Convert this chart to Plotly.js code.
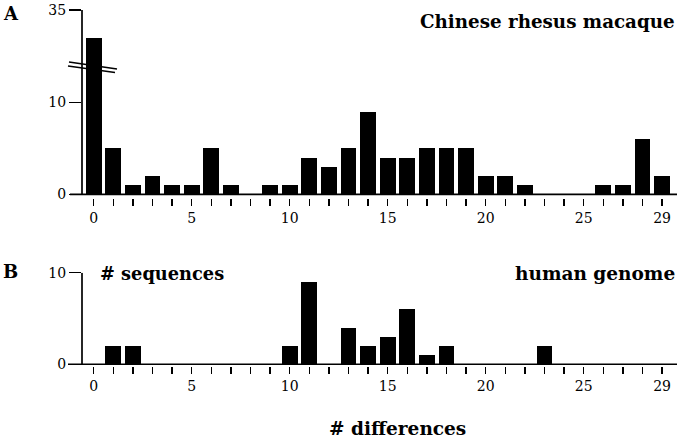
<!DOCTYPE html>
<html><head><meta charset="utf-8">
<script src="https://cdn.plot.ly/plotly-3.0.1.min.js"></script>
<style>html,body{margin:0;padding:0;background:#fff}#chart{width:680px;height:441px}</style>
</head><body><div id="chart"></div>
<script>
// # differences (x categories)
const differences = [0,1,2,3,4,5,6,7,8,9,10,11,12,13,14,15,16,17,18,19,20,21,22,23,24,25,26,27,28,29];
// A: Chinese rhesus macaque, # sequences
const macaqueCounts = [32,5,1,2,1,1,5,1,0,1,1,4,3,5,9,4,4,5,5,5,2,2,1,0,0,0,1,1,6,2];
// B: human genome, # sequences
const humanCounts = [0,2,2,0,0,0,0,0,0,0,2,9,0,4,2,3,6,1,2,0,0,0,0,2,0,0,0,0,0,0];
// x tick labels (blank for unlabeled ticks)
const xTickLabels = ['0','','','','','5','','','','','10','','','','','15','','','','','20','','','','','25','','','','29'];
const yTickValsA = [0,10];
const yTickValsAUpper = [35];
const yTickValsB = [0,10];

const W = 680, H = 441;
const px = v => v / W;
const py = v => 1 - v / H;
const serif = '"DejaVu Serif", serif';
const black = '#000';

const barStyle = {type:'bar', marker:{color:black, line:{width:0}}, width:0.8, hoverinfo:'skip', showlegend:false};

const data = [
  Object.assign({x:differences, y:macaqueCounts, xaxis:'x', yaxis:'y'}, barStyle),
  Object.assign({x:differences, y:macaqueCounts, xaxis:'x', yaxis:'y2'}, barStyle),
  Object.assign({x:differences, y:humanCounts, xaxis:'x2', yaxis:'y3'}, barStyle)
];

const xr = [-0.597, 29.76];
const xdom = [px(82), px(677)];
const tickFont = {family:serif, size:14, color:black};
function xAxis(anchor){
  return {domain:xdom, range:xr, anchor:anchor, tickmode:'array', tickvals:differences, ticktext:xTickLabels,
    ticks:'outside', ticklen:7, tickwidth:1.5, tickcolor:black, showline:false, showgrid:false, zeroline:false,
    tickfont:tickFont, fixedrange:true};
}
function yAxis(dom, range, tv, anchor){
  return {domain:dom, range:range, anchor:anchor, tickmode:'array', tickvals:tv, ticktext:tv.map(String),
    ticks:'outside', ticklen:12, tickwidth:1.5, tickcolor:black, showline:false, showgrid:false, zeroline:false,
    tickfont:tickFont, fixedrange:true};
}

const aLow = [-0.4, 13.95], aUp = [28.91, 35], bR = [-0.2, 10];
const lw = 1.7;
const layout = {
  width:W, height:H, margin:{l:0,r:0,t:0,b:0}, paper_bgcolor:'#fff', plot_bgcolor:'rgba(0,0,0,0)',
  bargap:0, showlegend:false, font:{family:serif, color:black},
  xaxis: xAxis('y'),
  xaxis2: xAxis('y3'),
  yaxis: yAxis([py(198), py(66)], aLow, yTickValsA, 'x'),
  yaxis2: yAxis([py(66), py(10)], aUp, yTickValsAUpper, 'x'),
  yaxis3: yAxis([py(366.1), py(272.7)], bR, yTickValsB, 'x2'),
  shapes: [
    {type:'line', xref:'paper', yref:'y', x0:px(70), x1:px(677), y0:0, y1:0, line:{color:black, width:lw}},
    {type:'line', xref:'paper', yref:'y', x0:px(82), x1:px(82), y0:0, y1:aLow[1], line:{color:black, width:lw}},
    {type:'line', xref:'paper', yref:'y2', x0:px(82), x1:px(82), y0:aUp[0], y1:aUp[1], line:{color:black, width:lw}},
    {type:'line', xref:'paper', yref:'y3', x0:px(68), x1:px(677), y0:0, y1:0, line:{color:black, width:lw}},
    {type:'line', xref:'paper', yref:'y3', x0:px(82), x1:px(82), y0:0, y1:bR[1], line:{color:black, width:lw}},
    {type:'line', xref:'paper', yref:'paper', x0:px(69), x1:px(117), y0:py(62), y1:py(69), line:{color:black, width:1.5}},
    {type:'line', xref:'paper', yref:'paper', x0:px(68), x1:px(115), y0:py(66), y1:py(72.5), line:{color:black, width:1.5}}
  ],
  annotations: [
    {text:'<b>A</b>', xref:'paper', yref:'paper', x:px(11), y:py(13.5), xanchor:'center', yanchor:'middle', showarrow:false, font:{family:serif, size:18, color:black}},
    {text:'<b>B</b>', xref:'paper', yref:'paper', x:px(10), y:py(271.5), xanchor:'center', yanchor:'middle', showarrow:false, font:{family:serif, size:18, color:black}},
    {text:'<b>Chinese rhesus macaque</b>', xref:'paper', yref:'paper', x:px(677), y:py(21), xanchor:'right', yanchor:'middle', showarrow:false, font:{family:serif, size:18.3, color:black}},
    {text:'<b># sequences</b>', xref:'paper', yref:'paper', x:px(98), y:py(273), xanchor:'left', yanchor:'middle', showarrow:false, font:{family:serif, size:17.8, color:black}},
    {text:'<b>human genome</b>', xref:'paper', yref:'paper', x:px(677), y:py(273), xanchor:'right', yanchor:'middle', showarrow:false, font:{family:serif, size:18.5, color:black}},
    {text:'<b># differences</b>', xref:'paper', yref:'paper', x:px(397), y:py(428), xanchor:'center', yanchor:'middle', showarrow:false, font:{family:serif, size:18.5, color:black}}
  ]
};
Plotly.newPlot('chart', data, layout, {displayModeBar:false, staticPlot:true});
</script>
</body></html>
